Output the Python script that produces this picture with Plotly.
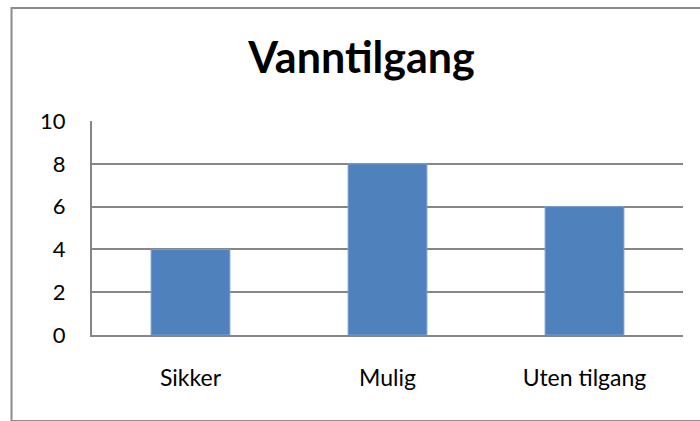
import plotly.graph_objects as go

categories = ["Sikker", "Mulig", "Uten tilgang"]
values = [4, 8, 6]
y_ticks = [0, 2, 4, 6, 8, 10]
title_text = "Vanntilgang"

W, H = 700, 421
L, R, T, B = 92, 17, 121, 86
pw, ph = W - L - R, H - T - B

def px_x(x):
    return (x - L) / pw

def px_y(y):
    return (H - B - y) / ph

fig = go.Figure(go.Bar(
    x=categories, y=values,
    marker=dict(color="#4F81BD", line=dict(color="#7BA0D0", width=1)),
    width=0.4,
))

fig.update_layout(
    width=W, height=H,
    margin=dict(l=L, r=R, t=T, b=B),
    paper_bgcolor="white", plot_bgcolor="white",
    showlegend=False,
    font=dict(family="Lato", color="black", size=22),
    title=dict(text="<b>" + title_text + "</b>", x=361.5 / W, xref="container", xanchor="center",
               y=1 - 58 / H, yref="container", yanchor="middle",
               font=dict(family="Lato", size=43, color="black")),
    bargap=0.6,
    shapes=[dict(type="rect", xref="paper", yref="paper",
                 x0=px_x(11.5), x1=px_x(705), y0=px_y(421), y1=px_y(8),
                 line=dict(color="#8C8C8C", width=2), layer="below")],
)
fig.update_xaxes(showline=True, linecolor="#868686", linewidth=2, ticks="", showgrid=False,
                 ticklabelstandoff=21, tickfont=dict(size=23))
fig.update_yaxes(range=[0, 10], tickvals=y_ticks, showgrid=True, gridcolor="#868686", gridwidth=2,
                 showline=True, linecolor="#868686", linewidth=2, ticks="", zeroline=False,
                 ticklabelstandoff=20, tickfont=dict(size=22))

fig.write_html("out.html", config={"displayModeBar": False},
               post_script="document.body.style.margin='0';document.body.style.padding='0';")
